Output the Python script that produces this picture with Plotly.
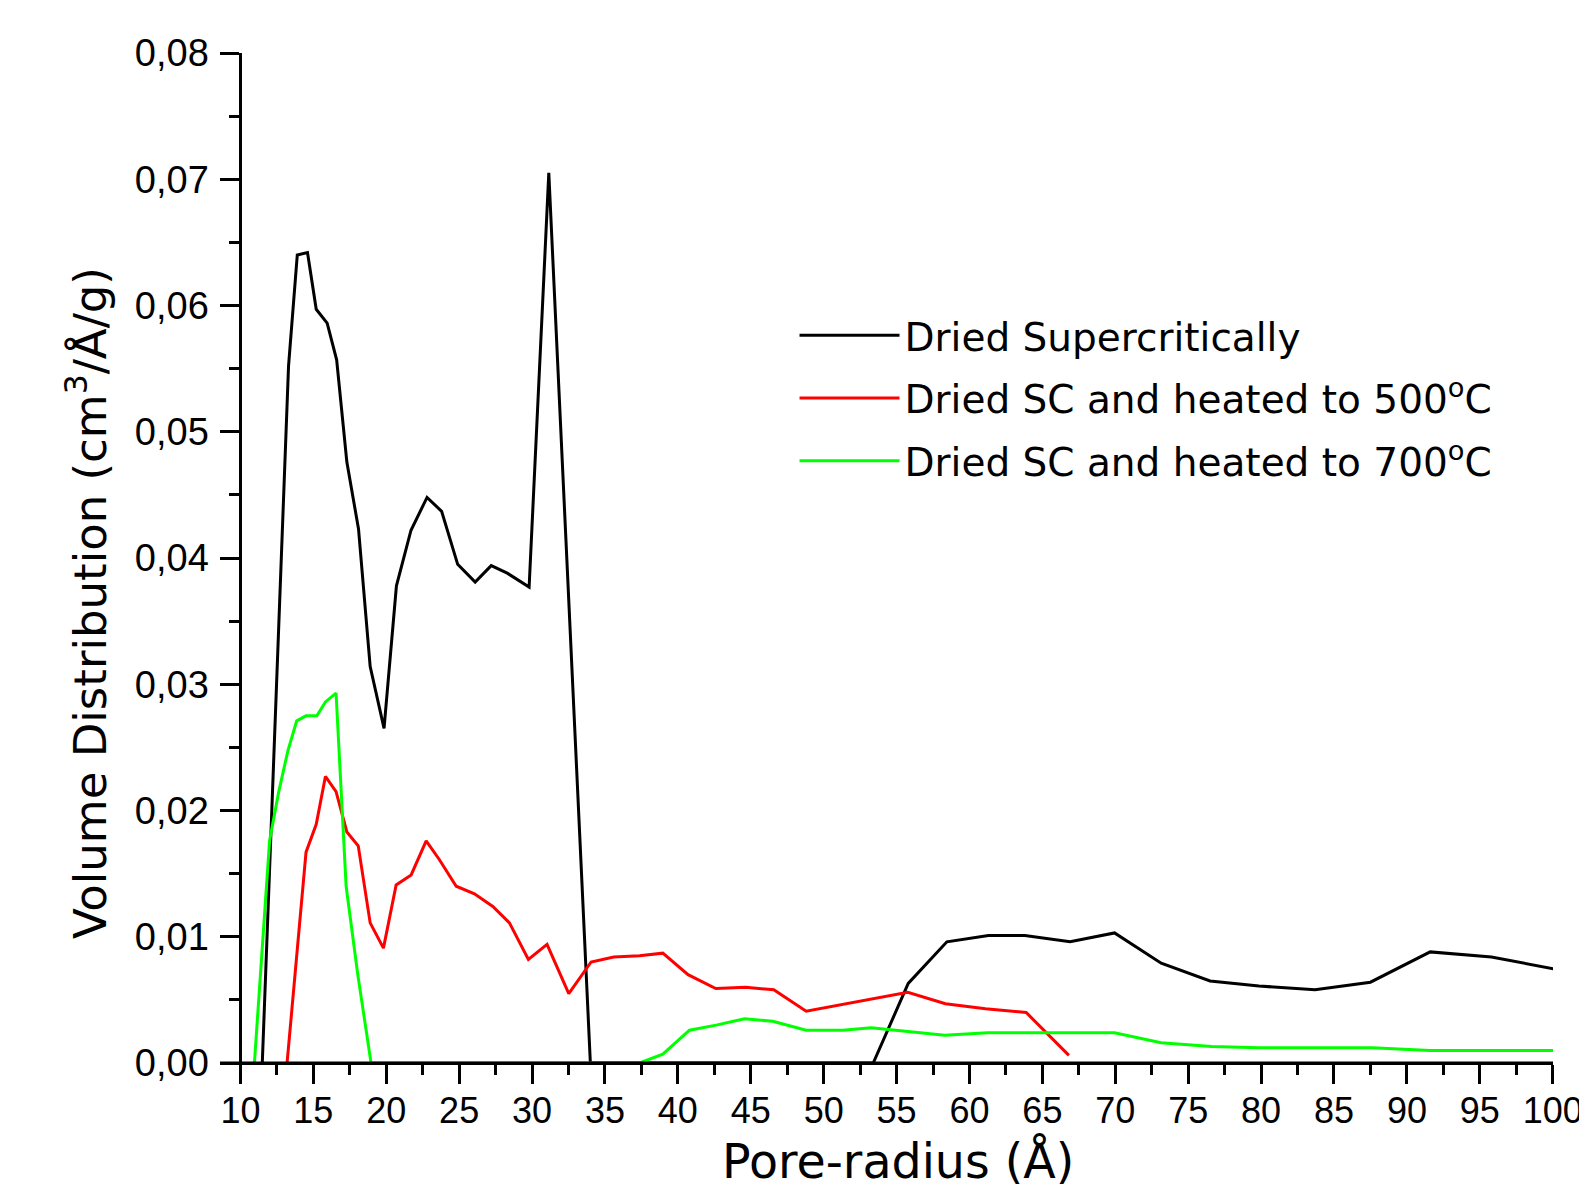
import plotly.graph_objects as go

# ---------------- data ----------------
black_x = [11.5, 13.3, 13.9, 14.6, 15.2, 15.95, 16.6, 17.3, 18.1, 18.9, 19.85, 20.7, 21.7, 22.8,
           23.8, 24.9, 26.1, 27.2, 28.3, 29.8, 31.15, 34.0, 35.6, 37.4, 39.0, 40.7, 42.6, 44.6,
           46.6, 48.8, 51.1, 53.4, 55.8, 58.45, 61.3, 63.8, 66.9, 69.95, 73.15, 76.5, 79.85,
           83.7, 87.5, 91.6, 95.8, 100.3]
black_y = [0.0, 0.0552, 0.0640, 0.0642, 0.0597, 0.0586, 0.0557, 0.0476, 0.0423, 0.0314, 0.0265,
           0.0378, 0.0422, 0.0448, 0.0437, 0.0395, 0.0381, 0.0394, 0.0388, 0.0377, 0.0705, 0.0,
           0.0, 0.0, 0.0, 0.0, 0.0, 0.0, 0.0, 0.0, 0.0, 0.0, 0.0063, 0.0096, 0.0101, 0.0101,
           0.0096, 0.0103, 0.0079, 0.0065, 0.0061, 0.0058, 0.0064, 0.0088, 0.0084, 0.0074]

red_x = [13.2, 14.5, 15.2, 15.83, 16.56, 17.3, 18.08, 18.9, 19.81, 20.68, 21.71, 22.74, 23.65,
         24.8, 26.05, 27.31, 28.45, 29.75, 31.03, 32.52, 34.05, 35.6, 37.37, 38.97, 40.7, 42.6,
         44.65, 46.58, 48.8, 51.1, 53.4, 55.77, 58.35, 61.1, 63.89, 66.82]
red_y = [0.0, 0.0167, 0.0189, 0.0227, 0.0215, 0.0183, 0.0172, 0.0111, 0.0091, 0.0141, 0.0149,
         0.0176, 0.0161, 0.0140, 0.0134, 0.0124, 0.0111, 0.0082, 0.0094, 0.0055, 0.0080, 0.0084,
         0.0085, 0.0087, 0.0070, 0.0059, 0.0060, 0.0058, 0.0041, 0.0046, 0.0051, 0.0056, 0.0047,
         0.0043, 0.0040, 0.0006]

green_x = [10.96, 12.0, 12.63, 13.25, 13.86, 14.5, 15.24, 15.83, 16.56, 17.25, 18.05, 18.96,
           37.37, 38.97, 40.8, 42.63, 44.57, 46.51, 48.8, 51.31, 53.26, 55.7, 58.3, 61.25, 63.89,
           66.9, 69.95, 73.14, 76.6, 79.85, 83.7, 87.6, 91.6, 95.8, 100.3]
green_y = [0.0, 0.0176, 0.0215, 0.0247, 0.0271, 0.0275, 0.0275, 0.0286, 0.0293, 0.0140, 0.0070,
           0.0, 0.0, 0.0007, 0.0026, 0.0030, 0.0035, 0.0033, 0.0026, 0.0026, 0.0028, 0.0025,
           0.0022, 0.0024, 0.0024, 0.0024, 0.0024, 0.0016, 0.0013, 0.0012, 0.0012, 0.0012,
           0.0010, 0.0010, 0.0010]

series_names = ["Dried Supercritically",
                "Dried SC and heated to 500<sup>o</sup>C",
                "Dried SC and heated to 700<sup>o</sup>C"]
series_colors = ["#000000", "#FF0000", "#00FF00"]

x_title = "Pore-radius (Å)"
y_title = "Volume Distribution (cm<sup>3</sup>/Å/g)"

XMIN, XMAX = 8.6, 100.02
TICKFONT = "Arial, Liberation Sans, sans-serif"
WIDEFONT = "DejaVu Sans, Arial, sans-serif"

fig = go.Figure()
for xs, ys, nm, col in zip([black_x, red_x, green_x], [black_y, red_y, green_y],
                           series_names, series_colors):
    fig.add_trace(go.Scatter(x=xs, y=ys, mode="lines", name=nm, legendgroup=nm,
                             line=dict(color=col, width=3)))

fig.update_layout(
    width=1579, height=1185,
    margin=dict(l=220, r=26, t=53, b=122, autoexpand=False),
    paper_bgcolor="white", plot_bgcolor="white",
    separators=",.",
    font=dict(family=TICKFONT, color="black", size=36),
    showlegend=True,
    legend=dict(x=0.431, y=0.752, xanchor="left", yanchor="top",
                font=dict(size=39, family=WIDEFONT), bgcolor="rgba(0,0,0,0)",
                itemwidth=100, tracegroupgap=9),
    xaxis=dict(range=[XMIN, XMAX], tick0=10, dtick=5, showgrid=False, zeroline=False,
               showline=True, linewidth=1.5, linecolor="black", automargin=False,
               ticks="outside", ticklen=19, tickwidth=3, tickcolor="black",
               minor=dict(dtick=2.5, ticks="outside", ticklen=10, tickwidth=3,
                          tickcolor="black", showgrid=False),
               ticklabeloverflow="allow", ticklabelstandoff=-4,
               tickfont=dict(size=36, family=TICKFONT), layer="above traces"),
    yaxis=dict(range=[0, 0.08], tick0=0, dtick=0.01, tickformat=".2f",
               anchor="free", position=(10 - XMIN) / (XMAX - XMIN),
               showgrid=False, zeroline=False, automargin=False,
               showline=True, linewidth=3, linecolor="black",
               ticks="outside", ticklen=19, tickwidth=3, tickcolor="black",
               minor=dict(dtick=0.005, ticks="outside", ticklen=10, tickwidth=3,
                          tickcolor="black", showgrid=False),
               ticklabelstandoff=4, ticklabeloverflow="allow",
               tickfont=dict(size=38, family=TICKFONT), layer="above traces"),
)

# black baseline over the x axis so zero-valued segments sit under the axis, as in the original
fig.add_shape(type="line", xref="x", yref="y", x0=XMIN, x1=XMAX, y0=0, y1=0,
              line=dict(color="black", width=3), layer="above")

fig.add_annotation(text=x_title, xref="paper", yref="paper",
                   x=(898 - 220) / 1333, y=(1063 - 1161) / 1010,
                   xanchor="center", yanchor="middle", showarrow=False,
                   font=dict(size=47.5, family=WIDEFONT))
fig.add_annotation(text=y_title, xref="paper", yref="paper",
                   x=(87 - 220) / 1333, y=(1063 - 603) / 1010, textangle=-90,
                   xanchor="center", yanchor="middle", showarrow=False,
                   font=dict(size=45, family=WIDEFONT))

fig.write_html("out.html", config={"displayModeBar": False},
               post_script="document.body.style.margin='0';")
